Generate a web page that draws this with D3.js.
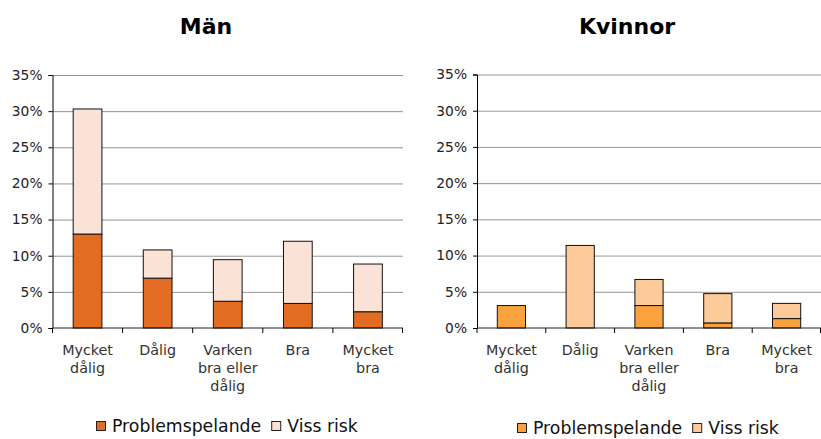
<!DOCTYPE html>
<html><head><meta charset="utf-8">
<script src="https://cdn.jsdelivr.net/npm/d3@7/dist/d3.min.js"></script>
<style>
body{margin:0;background:#fff;}
svg{display:block;font-family:"DejaVu Sans",Verdana,sans-serif;}
</style></head>
<body><svg id="c" width="821" height="439"></svg>
<script>
const categories = ["Mycket dålig", "Dålig", "Varken bra eller dålig", "Bra", "Mycket bra"];
const categoryLines = [["Mycket","dålig"],["Dålig"],["Varken","bra eller","dålig"],["Bra"],["Mycket","bra"]];
const seriesNames = ["Problemspelande", "Viss risk"];
const menProblem = [13.0, 6.9, 3.7, 3.4, 2.25];
const menRisk = [17.3, 3.9, 5.75, 8.6, 6.6];
const womenProblem = [3.1, 0, 3.1, 0.7, 1.3];
const womenRisk = [0, 11.4, 3.6, 4.05, 2.1];
const yTicks = [0, 5, 10, 15, 20, 25, 30, 35];

const svg = d3.select("#c");

function drawChart(cfg){
  const g = svg.append("g");
  const x = d3.scaleBand().domain(categories).range([cfg.x0, cfg.x1]).padding(0);
  const y = d3.scaleLinear().domain([0, 35]).range([cfg.yb, cfg.yt]);
  const bw = x.bandwidth() * 0.41;

  // gridlines
  g.append("g").attr("transform", `translate(${cfg.x0},0)`)
    .call(d3.axisLeft(y).tickValues(yTicks.slice(1)).tickSize(-(cfg.x1 - cfg.x0)).tickFormat(""))
    .call(s => s.select(".domain").remove())
    .call(s => s.selectAll("line").attr("stroke", "#969696").attr("stroke-width", 1));

  // y axis
  g.append("g").attr("transform", `translate(${cfg.x0},0)`)
    .call(d3.axisLeft(y).tickValues(yTicks).tickSize(4).tickPadding(6).tickFormat(d => d + "%"))
    .call(s => s.select(".domain").attr("stroke", "#000"))
    .call(s => s.selectAll("line").attr("stroke", "#000"))
    .call(s => s.selectAll("text").attr("font-size", "13.8px").attr("fill", "#222")
      .attr("font-family", '"DejaVu Sans",Verdana,sans-serif'));

  // stacked bars
  const stacked = categories.map((c, i) => ({c, p: cfg.problem[i], r: cfg.risk[i]}));
  stacked.forEach(d => {
    const cx = x(d.c) + x.bandwidth() / 2;
    if (d.p > 0) g.append("rect").attr("x", cx - bw / 2).attr("width", bw)
      .attr("y", y(d.p)).attr("height", y(0) - y(d.p))
      .attr("fill", cfg.colors[0]).attr("stroke", "#111").attr("stroke-width", 1);
    if (d.r > 0) g.append("rect").attr("x", cx - bw / 2).attr("width", bw)
      .attr("y", y(d.p + d.r)).attr("height", y(d.p) - y(d.p + d.r))
      .attr("fill", cfg.colors[1]).attr("stroke", "#111").attr("stroke-width", 1);
  });

  // x axis
  g.append("line").attr("x1", cfg.x0).attr("x2", cfg.x1).attr("y1", y(0)).attr("y2", y(0))
    .attr("stroke", "#222").attr("stroke-width", 1);
  const bounds = categories.map(c => x(c)).concat([cfg.x1 - 0.5]);
  g.selectAll(".xt").data(bounds).enter().append("line")
    .attr("x1", d => d).attr("x2", d => d).attr("y1", y(0)).attr("y2", y(0) + 5)
    .attr("stroke", "#000");
  categories.forEach((c, i) => {
    const t = g.append("text").attr("text-anchor", "middle").attr("font-size", "14.3px").attr("fill", "#333")
      .attr("x", x(c) + x.bandwidth() / 2).attr("y", cfg.labelY);
    categoryLines[i].forEach((ln, j) => t.append("tspan").attr("x", x(c) + x.bandwidth() / 2)
      .attr("dy", j === 0 ? 0 : 18.2).text(ln));
  });

  // title
  g.append("text").attr("x", cfg.titleX).attr("y", 34).attr("text-anchor", "middle")
    .attr("font-size", "22px").attr("font-weight", "bold").attr("fill", "#000").text(cfg.title);

  // legend
  const lg = g.append("g");
  let lx = cfg.legX;
  seriesNames.forEach((n, i) => {
    lg.append("rect").attr("x", lx + 0.5).attr("y", cfg.legY - 10.5).attr("width", 9).attr("height", 9)
      .attr("fill", cfg.colors[i]).attr("stroke", "#222").attr("stroke-width", 1);
    const t = lg.append("text").attr("x", lx + 16).attr("y", cfg.legY).attr("font-size", "17.3px")
      .attr("fill", "#111").text(n);
    lx += 16 + t.node().getComputedTextLength() + 10;
  });
}

drawChart({x0: 52.5, x1: 403, yt: 75, yb: 328, title: "Män", titleX: 206,
  problem: menProblem, risk: menRisk, colors: ["#E36C23", "#FBE2D6"],
  labelY: 355, legX: 96, legY: 432});
drawChart({x0: 477, x1: 821, yt: 74.5, yb: 328, title: "Kvinnor", titleX: 627,
  problem: womenProblem, risk: womenRisk, colors: ["#F9A23F", "#FDCB99"],
  labelY: 355, legX: 517, legY: 434});
</script></body></html>
